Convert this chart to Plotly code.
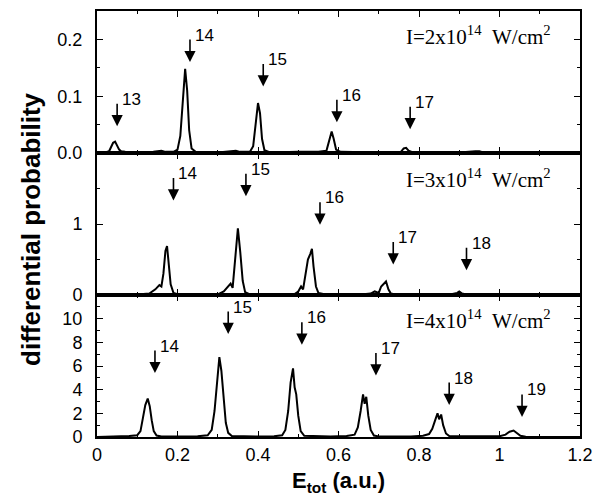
import plotly.graph_objects as go
from plotly.subplots import make_subplots

# ---------------- data ----------------
# Panel 1: I = 2x10^14 W/cm^2
E1 = [0.00, 0.02, 0.030, 0.035, 0.040, 0.045, 0.050, 0.055, 0.060, 0.070, 0.10, 0.14, 0.160, 0.170,
      0.190, 0.200, 0.207, 0.213, 0.219, 0.224, 0.229, 0.235, 0.245, 0.30, 0.345, 0.355, 0.380, 0.388,
      0.394, 0.400, 0.405, 0.410, 0.416, 0.430, 0.50, 0.55, 0.570, 0.577, 0.583, 0.588, 0.594, 0.605,
      0.70, 0.755, 0.762, 0.768, 0.774, 0.785, 0.90, 0.940, 0.950, 0.960, 1.10, 1.125, 1.135, 1.20]
P1 = [0.001, 0.001, 0.003, 0.010, 0.018, 0.020, 0.014, 0.006, 0.003, 0.002, 0.001, 0.002, 0.004, 0.002,
      0.002, 0.006, 0.030, 0.095, 0.148, 0.110, 0.040, 0.008, 0.002, 0.001, 0.004, 0.002, 0.002, 0.012,
      0.050, 0.088, 0.070, 0.025, 0.005, 0.001, 0.002, 0.002, 0.004, 0.020, 0.038, 0.025, 0.006, 0.002,
      0.001, 0.002, 0.008, 0.009, 0.004, 0.001, 0.001, 0.003, 0.003, 0.001, 0.001, 0.002, 0.001, 0.001]

# Panel 2: I = 3x10^14 W/cm^2
E2 = [0.00, 0.10, 0.13, 0.145, 0.155, 0.160, 0.165, 0.170, 0.174, 0.178, 0.183, 0.190, 0.200, 0.25,
      0.30, 0.315, 0.325, 0.332, 0.337, 0.343, 0.350, 0.356, 0.362, 0.368, 0.380, 0.45, 0.49, 0.500,
      0.507, 0.512, 0.518, 0.524, 0.530, 0.534, 0.538, 0.544, 0.550, 0.565, 0.65, 0.680, 0.690, 0.700,
      0.706, 0.712, 0.718, 0.724, 0.730, 0.745, 0.85, 0.880, 0.895, 0.900, 0.907, 0.920, 1.05, 1.10,
      1.12, 1.20]
P2 = [0.005, 0.006, 0.02, 0.08, 0.14, 0.12, 0.30, 0.62, 0.69, 0.45, 0.15, 0.03, 0.01, 0.005,
      0.01, 0.05, 0.12, 0.16, 0.10, 0.55, 0.94, 0.60, 0.20, 0.04, 0.01, 0.005, 0.01, 0.05,
      0.12, 0.08, 0.30, 0.50, 0.58, 0.65, 0.40, 0.12, 0.03, 0.01, 0.005, 0.02, 0.05, 0.03,
      0.12, 0.16, 0.19, 0.08, 0.02, 0.005, 0.005, 0.01, 0.03, 0.05, 0.02, 0.005, 0.005, 0.01,
      0.005, 0.005]

# Panel 3: I = 4x10^14 W/cm^2
E3 = [0.00, 0.05, 0.08, 0.100, 0.108, 0.114, 0.120, 0.126, 0.131, 0.136, 0.141, 0.148, 0.160, 0.22,
      0.25, 0.275, 0.285, 0.292, 0.298, 0.304, 0.309, 0.314, 0.320, 0.326, 0.335, 0.40, 0.44, 0.460,
      0.468, 0.475, 0.481, 0.487, 0.491, 0.495, 0.500, 0.506, 0.515, 0.58, 0.62, 0.640, 0.648, 0.655,
      0.661, 0.665, 0.669, 0.674, 0.680, 0.688, 0.70, 0.78, 0.81, 0.825, 0.833, 0.840, 0.846, 0.850,
      0.855, 0.860, 0.867, 0.876, 0.95, 1.000, 1.015, 1.025, 1.035, 1.043, 1.052, 1.065, 1.20]
P3 = [0.0, 0.02, 0.08, 0.15, 0.50, 1.60, 2.70, 3.25, 2.60, 1.40, 0.50, 0.12, 0.04, 0.04,
      0.06, 0.15, 0.60, 2.20, 4.80, 6.75, 5.60, 3.20, 1.20, 0.35, 0.08, 0.04, 0.06, 0.15,
      0.60, 2.20, 4.60, 5.80, 4.20, 3.60, 1.80, 0.50, 0.10, 0.04, 0.08, 0.20, 0.80, 2.20,
      3.60, 2.80, 3.40, 1.80, 0.60, 0.12, 0.05, 0.04, 0.10, 0.25, 0.70, 1.40, 2.00, 1.50,
      1.90, 1.00, 0.30, 0.06, 0.03, 0.06, 0.20, 0.45, 0.55, 0.35, 0.10, 0.02, 0.0]

# Harmonic-order arrows: labels, energies and arrow-tip heights
ORD1 = ["13", "14", "15", "16", "17"]
ARX1 = [0.050, 0.231, 0.413, 0.596, 0.778]
ARY1 = [0.047, 0.160, 0.117, 0.054, 0.042]

ORD2 = ["14", "15", "16", "17", "18"]
ARX2 = [0.190, 0.370, 0.554, 0.736, 0.918]
ARY2 = [1.33, 1.39, 0.99, 0.43, 0.35]

ORD3 = ["14", "15", "16", "17", "18", "19"]
ARX3 = [0.144, 0.326, 0.509, 0.693, 0.875, 1.056]
ARY3 = [5.4, 8.7, 7.8, 5.2, 2.7, 1.7]

INTENSITY = ["I=2x10<sup>14</sup>&nbsp;&nbsp;W/cm<sup>2</sup>",
             "I=3x10<sup>14</sup>&nbsp;&nbsp;W/cm<sup>2</sup>",
             "I=4x10<sup>14</sup>&nbsp;&nbsp;W/cm<sup>2</sup>"]

Y1_TICKS = [0.0, 0.1, 0.2]
Y1_TEXT = ["0.0", "0.1", "0.2"]
Y2_TICKS = [0, 1]
Y3_TICKS = [0, 2, 4, 6, 8, 10]
X_TICKS = [0, 0.2, 0.4, 0.6, 0.8, 1.0, 1.2]
X_TEXT = ["0", "0.2", "0.4", "0.6", "0.8", "1", "1.2"]

# ---------------- figure ----------------
SANS = "Liberation Sans, Arial, Helvetica, sans-serif"
SERIF = "Liberation Serif, Times New Roman, serif"

fig = make_subplots(rows=3, cols=1, shared_xaxes=True, vertical_spacing=0)

for r, (E, P) in enumerate([(E1, P1), (E2, P2), (E3, P3)], start=1):
    fig.add_trace(go.Scatter(x=E, y=P, mode="lines",
                             line=dict(color="black", width=2),
                             showlegend=False, hoverinfo="skip"), row=r, col=1)

axis_common = dict(showline=True, linecolor="black", linewidth=2, mirror="allticks",
                   ticks="inside", ticklen=6, tickwidth=1, tickcolor="black",
                   showgrid=False, zeroline=False,
                   tickfont=dict(family=SANS, size=18, color="black"))

for r in (1, 2, 3):
    fig.update_xaxes(range=[0, 1.2], tickvals=X_TICKS, ticktext=X_TEXT,
                     minor=dict(dtick=0.1, ticks="inside", ticklen=3, tickcolor="black"),
                     showticklabels=(r == 3), row=r, col=1, **axis_common)

fig.update_yaxes(range=[0, 0.25], tickvals=Y1_TICKS, ticktext=Y1_TEXT,
                 minor=dict(tickvals=[0.05, 0.15, 0.25], ticks="inside", ticklen=3, tickcolor="black"),
                 row=1, col=1, ticklabelstandoff=9, **axis_common)
fig.update_yaxes(range=[0, 2], tickvals=Y2_TICKS,
                 minor=dict(tickvals=[0.5, 1.5], ticks="inside", ticklen=3, tickcolor="black"),
                 row=2, col=1, ticklabelstandoff=9, **axis_common)
fig.update_yaxes(range=[0, 12], tickvals=Y3_TICKS,
                 minor=dict(dtick=1, ticks="inside", ticklen=3, tickcolor="black"),
                 row=3, col=1, ticklabelstandoff=9, **axis_common)

annotations = []
refs = [("x", "y"), ("x2", "y2"), ("x3", "y3")]
for (xr, yr), ords, axs, ays in zip(refs, [ORD1, ORD2, ORD3], [ARX1, ARX2, ARX3], [ARY1, ARY2, ARY3]):
    for o, xv, yv in zip(ords, axs, ays):
        annotations.append(dict(x=xv, y=yv, xref=xr, yref=yr, text="", showarrow=True,
                                ax=0, ay=-24, arrowhead=2, arrowsize=1.4, arrowwidth=1.6,
                                arrowcolor="black", standoff=0))
        annotations.append(dict(x=xv, y=yv, xref=xr, yref=yr, text=o, showarrow=False,
                                xanchor="left", yanchor="middle", xshift=3, yshift=27,
                                font=dict(family=SANS, size=17, color="black")))

INT_Y = [0.207, 1.64, 9.9]
for (xr, yr), txt, yv in zip(refs, INTENSITY, INT_Y):
    annotations.append(dict(x=1.133, y=yv, xref=xr, yref=yr, text=txt, showarrow=False,
                            xanchor="right", yanchor="middle",
                            font=dict(family=SERIF, size=21, color="black")))

annotations.append(dict(x=-0.137, y=0.488, xref="paper", yref="paper",
                        text="<b>differential probability</b>", textangle=-90, showarrow=False,
                        xanchor="center", yanchor="middle",
                        font=dict(family=SANS, size=26, color="black")))
annotations.append(dict(x=0.5, y=-0.105, xref="paper", yref="paper",
                        text="<b>E<sub>tot</sub> (a.u.)</b>", showarrow=False,
                        xanchor="center", yanchor="middle",
                        font=dict(family=SANS, size=22, color="black")))

fig.update_layout(width=605, height=491, margin=dict(l=89, r=33, t=1, b=62),
                  paper_bgcolor="white", plot_bgcolor="white",
                  annotations=annotations)

fig.write_html("out.html")
